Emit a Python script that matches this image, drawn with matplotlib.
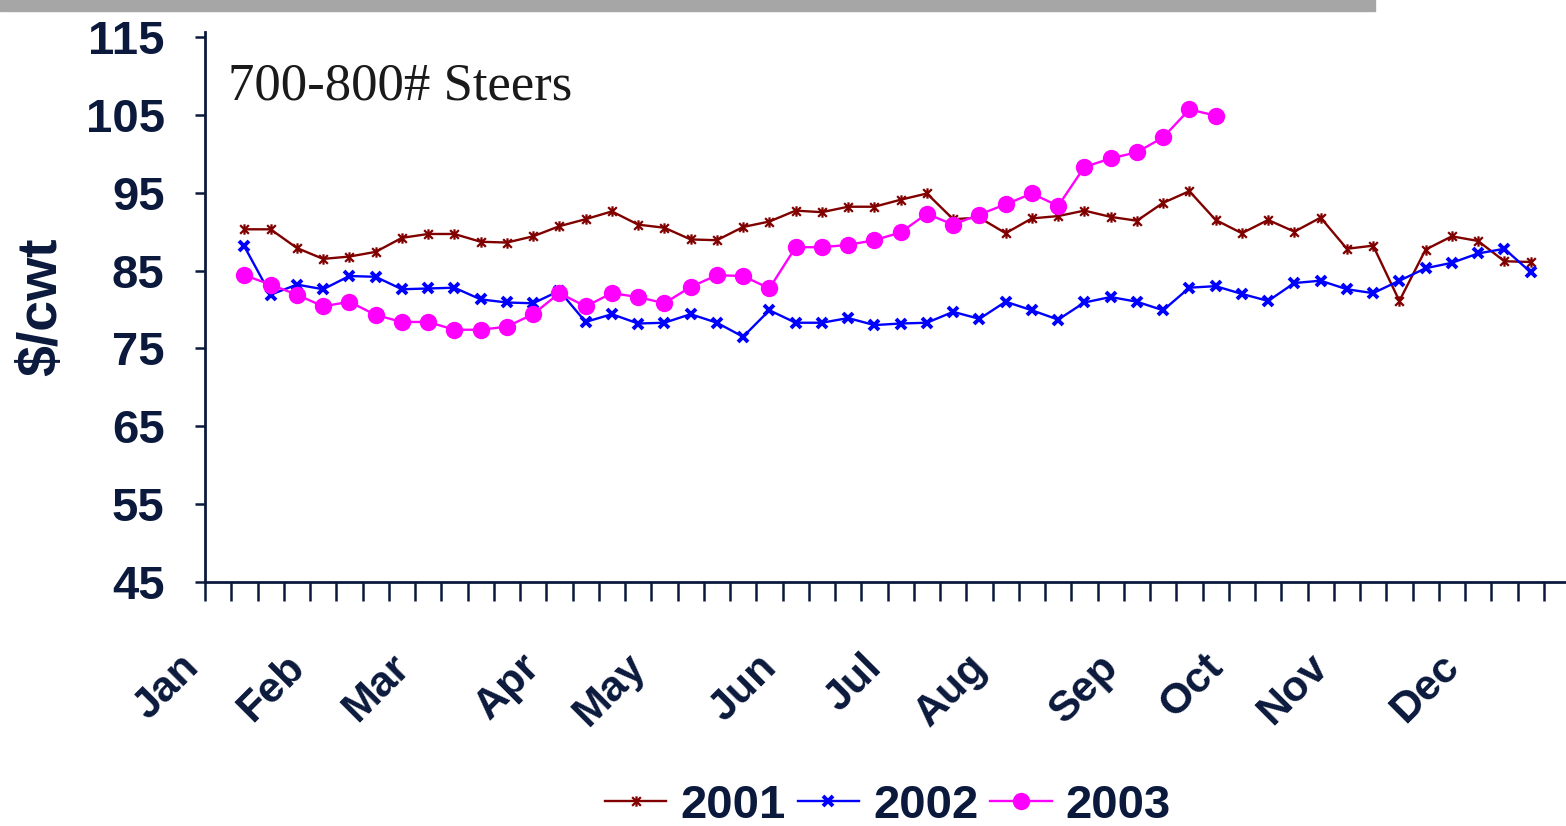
import numpy as np
import matplotlib
matplotlib.use("Agg")
import matplotlib.pyplot as plt
from matplotlib.path import Path
from matplotlib.patches import Rectangle

# ---------------- data ----------------
months = ["Jan", "Feb", "Mar", "Apr", "May", "Jun",
          "Jul", "Aug", "Sep", "Oct", "Nov", "Dec"]
month_week = [0, 4, 8, 13, 17, 22, 26, 30, 35, 39, 43, 48]   # category index of month label
n_weeks = 52
first_week = 1          # series start at the 2nd weekly category

series_names = ["2001", "2002", "2003"]

price_2001 = [90.3, 90.3, 87.9, 86.5, 86.8, 87.4, 89.2, 89.7, 89.7, 88.7,
              88.6, 89.4, 90.7, 91.6, 92.6, 90.9, 90.5, 89.0, 88.9, 90.6,
              91.3, 92.7, 92.5, 93.2, 93.2, 94.1, 94.9, 91.6, 91.8, 89.8,
              91.7, 92.0, 92.7, 91.9, 91.4, 93.7, 95.2, 91.5, 89.8, 91.5,
              90.0, 91.8, 87.8, 88.2, 81.1, 87.7, 89.4, 88.8, 86.2, 86.1]

price_2002 = [88.1, 81.9, 83.2, 82.6, 84.3, 84.2, 82.6, 82.7, 82.8, 81.3,
              80.9, 80.8, 82.4, 78.4, 79.4, 78.2, 78.3, 79.4, 78.3, 76.5,
              79.9, 78.3, 78.3, 78.9, 78.0, 78.2, 78.3, 79.7, 78.8, 81.0,
              79.9, 78.7, 80.9, 81.6, 81.0, 79.9, 82.8, 83.0, 82.0, 81.1,
              83.4, 83.7, 82.6, 82.1, 83.7, 85.3, 86.0, 87.2, 87.8, 84.8]

price_2003 = [84.4, 83.2, 81.9, 80.4, 81.0, 79.3, 78.4, 78.4, 77.4, 77.4,
              77.8, 79.4, 82.1, 80.4, 82.1, 81.6, 80.8, 82.9, 84.4, 84.3,
              82.7, 88.0, 88.0, 88.3, 88.9, 89.9, 92.3, 90.9, 92.2, 93.5,
              94.9, 93.3, 98.3, 99.4, 100.2, 102.1, 105.7, 104.9]

yticks = [45, 55, 65, 75, 85, 95, 105, 115]
ylabel = "$/cwt"
note = "700-800# Steers"

# ---------------- style ----------------
W, H = 1566, 826
navy = "#0b1a3c"
colors = {"2001": "#800000", "2002": "#0000ff", "2003": "#ff00ff"}

star = Path([(-1, -1), (1, 1), (-1, 1), (1, -1), (0, -1.2), (0, 1.2)],
            [Path.MOVETO, Path.LINETO, Path.MOVETO, Path.LINETO, Path.MOVETO, Path.LINETO])

fig = plt.figure(figsize=(W / 100, H / 100), dpi=100)
fig.patch.set_facecolor("white")

# gray header bar
fig.patches.append(Rectangle((0, 1 - 11 / H), 1375 / W, 11 / H,
                             transform=fig.transFigure, color="#a6a6a6", zorder=0))

x0, y_bot, y_top = 205, 582, 37
ax = fig.add_axes([x0 / W, (H - y_bot) / H, (W - x0) / W, (y_bot - y_top) / H])
cat_px = 26.25
ax.set_xlim(-0.5, -0.5 + (W - x0) / cat_px)
ax.set_ylim(min(yticks), max(yticks))

def xs(vals):
    return np.arange(first_week, first_week + len(vals))

ax.plot(xs(price_2001), price_2001, color=colors["2001"], lw=1.7,
        marker=star, ms=7.5, mew=1.6, label="2001", clip_on=False, zorder=3)
ax.plot(xs(price_2002), price_2002, color=colors["2002"], lw=1.7,
        marker="x", ms=7, mew=2.8, label="2002", clip_on=False, zorder=4)
ax.plot(xs(price_2003), price_2003, color=colors["2003"], lw=1.7,
        marker="o", ms=12.5, mew=0, label="2003", clip_on=False, zorder=5)

for s in ["top", "right"]:
    ax.spines[s].set_visible(False)
for s in ["left", "bottom"]:
    ax.spines[s].set_color(navy)
    ax.spines[s].set_linewidth(2.0)
ax.spines["left"].set_bounds(min(yticks), max(yticks) + 0.6)

ax.set_yticks(yticks)
ax.set_yticklabels([str(v) for v in yticks], fontsize=34, fontweight="bold",
                   color=navy, family="Liberation Sans")
ax.tick_params(axis="y", direction="out", length=7, width=1.8, color=navy, pad=22)

ax.set_xticks(np.arange(-0.5, n_weeks - 1, 1.0))
ax.set_xticklabels([])
ax.tick_params(axis="x", direction="out", length=14, width=1.8, color=navy)

for m, w in zip(months, month_week):
    ax.text(w - 0.95, -0.145, m, transform=ax.get_xaxis_transform(),
            rotation=45, rotation_mode="anchor", ha="right", va="center",
            fontsize=31, fontweight="bold", color=navy, family="Liberation Sans")

fig.text(42 / W, 1 - 307 / H, ylabel, rotation=90, ha="center", va="center",
         fontsize=40, fontweight="bold", color=navy, family="Liberation Sans")

fig.text(228 / W, 1 - 87 / H, note, ha="left", va="center",
         fontsize=38, color="#1a1a1a", family="Liberation Serif")

leg = fig.legend(loc="center", bbox_to_anchor=(888 / W, 1 - 806 / H), ncol=3,
                 frameon=False, handlelength=1.3, handletextpad=0.3,
                 columnspacing=0.25, borderaxespad=0,
                 prop={"family": "Liberation Sans", "weight": "bold", "size": 34})
for t in leg.get_texts():
    t.set_color(navy)

fig.savefig("out.png", dpi=100, facecolor="white")
